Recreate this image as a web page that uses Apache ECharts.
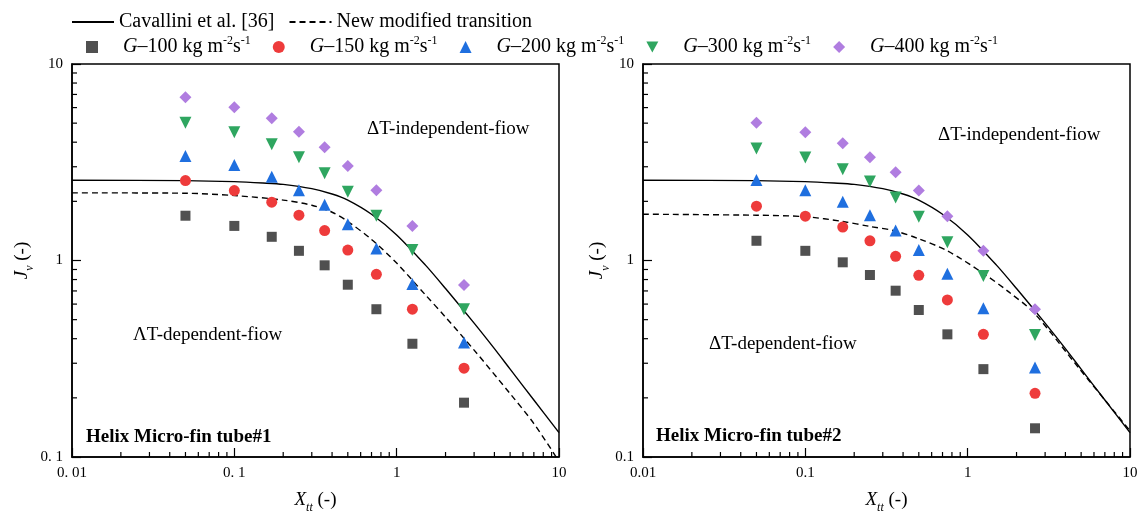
<!DOCTYPE html>
<html>
<head>
<meta charset="utf-8">
<script src="https://cdn.jsdelivr.net/npm/echarts@6/dist/echarts.min.js"></script>
<style>
html,body{margin:0;padding:0;background:#fff;}
#c{width:1146px;height:519px;}
</style>
</head>
<body>
<div id="c"></div>
<script>
// ---------- data ----------
const xVals = [0.05, 0.1, 0.17, 0.25, 0.36, 0.5, 0.75, 1.25, 2.6];
const gNames = ['G100', 'G150', 'G200', 'G300', 'G400'];
const gLabels = ['100', '150', '200', '300', '400'];

// tube #1 (left)
const L_G100 = [1.69, 1.50, 1.32, 1.12, 0.945, 0.753, 0.565, 0.377, 0.189];
const L_G150 = [2.55, 2.27, 1.98, 1.70, 1.42, 1.13, 0.851, 0.565, 0.283];
const L_G200 = [3.40, 3.06, 2.67, 2.28, 1.92, 1.53, 1.15, 0.759, 0.382];
const L_G300 = [5.03, 4.49, 3.90, 3.35, 2.78, 2.24, 1.69, 1.13, 0.565];
const L_G400 = [6.77, 6.02, 5.29, 4.52, 3.77, 3.03, 2.28, 1.50, 0.750];

// tube #2 (right)
const R_G100 = [1.26, 1.12, 0.979, 0.844, 0.702, 0.560, 0.421, 0.280, 0.140];
const R_G150 = [1.89, 1.68, 1.48, 1.26, 1.05, 0.841, 0.630, 0.421, 0.211];
const R_G200 = [2.57, 2.28, 1.99, 1.70, 1.42, 1.13, 0.857, 0.571, 0.285];
const R_G300 = [3.72, 3.34, 2.91, 2.52, 2.09, 1.67, 1.24, 0.834, 0.418];
const R_G400 = [5.03, 4.49, 3.95, 3.35, 2.81, 2.27, 1.68, 1.12, 0.565];

// transition curves
const cavX = [0.01, 0.05, 0.1, 0.15, 0.2, 0.3, 0.4, 0.5, 0.7, 1, 1.5, 2, 3, 4, 5, 7, 10];
const cavY = [2.56, 2.55, 2.52, 2.48, 2.44, 2.32, 2.18, 2.03, 1.72, 1.35, 0.95, 0.72, 0.48, 0.356, 0.28, 0.195, 0.133];
const newLX = [0.01, 0.05, 0.1, 0.2, 0.3, 0.4, 0.5, 0.7, 1, 1.5, 2, 3, 5, 7, 10];
const newLY = [2.21, 2.20, 2.14, 2.03, 1.91, 1.76, 1.58, 1.28, 0.97, 0.67, 0.515, 0.35, 0.21, 0.148, 0.095];
const newRX = [0.01, 0.05, 0.1, 0.17, 0.25, 0.35, 0.5, 0.75, 1.25, 1.8, 2.57, 4.9, 10];
const newRY = [1.72, 1.70, 1.67, 1.58, 1.49, 1.42, 1.29, 1.12, 0.86, 0.69, 0.54, 0.28, 0.136];

// axis tick labels
const xTickLabelsL = ['0. 01', '0. 1', '1', '10'];
const yTickLabelsL = ['0. 1', '1', '10'];
const xTickLabelsR = ['0.01', '0.1', '1', '10'];
const yTickLabelsR = ['0.1', '1', '10'];
const minorTicksX = [0.02, 0.03, 0.04, 0.05, 0.06, 0.07, 0.08, 0.09,
                     0.2, 0.3, 0.4, 0.5, 0.6, 0.7, 0.8, 0.9,
                     2, 3, 4, 5, 6, 7, 8, 9];
const minorTicksY = [0.2, 0.3, 0.4, 0.5, 0.6, 0.7, 0.8, 0.9,
                     2, 3, 4, 5, 6, 7, 8, 9];

// ---------- styling ----------
const FONT = "'Liberation Serif', 'Times New Roman', serif";
const gColors = ['#505050', '#ee3b3b', '#1f6fdf', '#2fa660', '#b07de0'];
const gSymbols = ['rect', 'circle', 'triangle', 'triangle', 'diamond'];
const gRotate = [0, 0, 0, 180, 0];
const gSizes = [10, 11, 12, 12, 12];
const gLegendIcons = ['rect', 'circle', 'triangle', 'path://M0,0L2,0L1,1.8Z', 'diamond'];
const CAV = 'Cavallini et al. [36]';
const NEW = 'New modified transition';

const zip = (xs, ys) => xs.map((x, i) => [x, ys[i]]);

function nameStyle() {
  return {
    fontFamily: FONT, fontSize: 19, color: '#000', lineHeight: 28,
    rich: {
      i: {fontFamily: FONT, fontSize: 19, fontStyle: 'italic', color: '#000', lineHeight: 28},
      sub: {fontFamily: FONT, fontSize: 12, fontStyle: 'italic', color: '#000', lineHeight: 12, verticalAlign: 'bottom'}
    }
  };
}
function axisX(idx, labels) {
  return {
    type: 'log', logBase: 10, min: 0.01, max: 10, gridIndex: idx,
    name: '{i|X}{sub|tt} (-)', nameLocation: 'middle', nameGap: 15,
    nameTextStyle: nameStyle(),
    axisLine: {show: true, onZero: false, lineStyle: {color: '#000', width: 1.5}},
    axisTick: {show: true, inside: true, length: 9, lineStyle: {color: '#000', width: 1.2}},
    axisLabel: {
      fontFamily: FONT, fontSize: 15, color: '#000', margin: 9,
      formatter: v => labels[Math.round(Math.log10(v)) + 2]
    },
    splitLine: {show: false}
  };
}
function axisY(idx, labels, gap) {
  return {
    type: 'log', logBase: 10, min: 0.1, max: 10, gridIndex: idx,
    name: '{i|J}{sub|v} (-)', nameLocation: 'middle', nameGap: gap,
    nameTextStyle: nameStyle(),
    axisLine: {show: true, onZero: false, lineStyle: {color: '#000', width: 1.5}},
    axisTick: {show: true, inside: true, length: 9, lineStyle: {color: '#000', width: 1.2}},
    axisLabel: {
      fontFamily: FONT, fontSize: 15, color: '#000', margin: 9,
      formatter: v => labels[Math.round(Math.log10(v)) + 1]
    },
    splitLine: {show: false}
  };
}

const series = [];
function addPanel(idx, gData, newX, newY) {
  series.push({
    name: CAV, type: 'line', xAxisIndex: idx, yAxisIndex: idx,
    data: zip(cavX, cavY), smooth: 0.3, symbol: 'none', showSymbol: false,
    lineStyle: {color: '#000', width: 1.4, type: 'solid'}, itemStyle: {color: '#000'},
    z: 2, silent: true
  });
  series.push({
    name: NEW, type: 'line', xAxisIndex: idx, yAxisIndex: idx,
    data: zip(newX, newY), smooth: 0.3, symbol: 'none', showSymbol: false,
    lineStyle: {color: '#000', width: 1.4, type: [6, 4]}, itemStyle: {color: '#000'},
    z: 2, silent: true
  });
  gData.forEach((arr, k) => {
    series.push({
      name: gNames[k], type: 'scatter', xAxisIndex: idx, yAxisIndex: idx,
      data: zip(xVals, arr), symbol: gSymbols[k], symbolRotate: gRotate[k],
      symbolSize: gSizes[k], itemStyle: {color: gColors[k], opacity: 1}, z: 3
    });
  });
  series.push({
    type: 'custom', xAxisIndex: idx, yAxisIndex: idx, silent: true, clip: false, z: 4,
    data: minorTicksX.map(v => [v, 0.1]),
    renderItem: (p, api) => {
      const c = api.coord([api.value(0), api.value(1)]);
      return {type: 'line', shape: {x1: c[0], y1: c[1], x2: c[0], y2: c[1] - 5},
              style: {stroke: '#000', lineWidth: 1.2}};
    }
  });
  series.push({
    type: 'custom', xAxisIndex: idx, yAxisIndex: idx, silent: true, clip: false, z: 4,
    data: minorTicksY.map(v => [0.01, v]),
    renderItem: (p, api) => {
      const c = api.coord([api.value(0), api.value(1)]);
      return {type: 'line', shape: {x1: c[0], y1: c[1], x2: c[0] + 5, y2: c[1]},
              style: {stroke: '#000', lineWidth: 1.2}};
    }
  });
}
addPanel(0, [L_G100, L_G150, L_G200, L_G300, L_G400], newLX, newLY);
addPanel(1, [R_G100, R_G150, R_G200, R_G300, R_G400], newRX, newRY);

function annot(text, x, y, bold) {
  return {
    type: 'text', x: x, y: y, z: 10,
    style: {text: text, fontFamily: FONT, fontSize: 19, fontWeight: bold ? 'bold' : 'normal',
            fill: '#000', verticalAlign: 'middle', align: 'left'}
  };
}

const hiddenSym = {color: 'rgba(0,0,0,0)', opacity: 0, borderWidth: 0};

const option = {
  backgroundColor: '#fff',
  animation: false,
  grid: [
    {left: 72, right: 587, top: 64, bottom: 62, show: true, borderColor: '#000', borderWidth: 1.5, backgroundColor: 'transparent'},
    {left: 643, right: 16, top: 64, bottom: 62, show: true, borderColor: '#000', borderWidth: 1.5, backgroundColor: 'transparent'}
  ],
  xAxis: [axisX(0, xTickLabelsL), axisX(1, xTickLabelsR)],
  yAxis: [axisY(0, yTickLabelsL, 36), axisY(1, yTickLabelsR, 28)],
  legend: [
    {
      data: [{name: CAV, itemStyle: hiddenSym}, {name: NEW, itemStyle: hiddenSym}],
      left: 66, top: 6, itemWidth: 42, itemHeight: 14, itemGap: 14,
      textStyle: {fontFamily: FONT, fontSize: 20, color: '#000', lineHeight: 22},
      selectedMode: false
    },
    {
      data: gNames.map((n, k) => ({name: n, icon: gLegendIcons[k]})),
      left: 81, top: 30, itemWidth: 12, itemHeight: 12, itemGap: 22,
      formatter: name => '    {i|G}–' + gLabels[gNames.indexOf(name)] + ' kg m{sup|-2}s{sup|-1}',
      textStyle: {
        fontFamily: FONT, fontSize: 20, color: '#000', lineHeight: 24,
        rich: {
          i: {fontFamily: FONT, fontSize: 20, fontStyle: 'italic', color: '#000', lineHeight: 24},
          sup: {fontFamily: FONT, fontSize: 12, color: '#000', lineHeight: 12, verticalAlign: 'top'}
        }
      },
      selectedMode: false
    }
  ],
  graphic: [
    annot('ΔT-independent-fiow', 367, 129, false),
    annot('ΛT-dependent-fiow', 133, 335, false),
    annot('Helix Micro-fin tube#1', 86, 437, true),
    annot('ΔT-independent-fiow', 938, 135, false),
    annot('ΔT-dependent-fiow', 709, 344, false),
    annot('Helix Micro-fin tube#2', 656, 436, true)
  ],
  series: series
};

const chart = echarts.init(document.getElementById('c'), null, {renderer: 'canvas'});
chart.setOption(option);
</script>
</body>
</html>
